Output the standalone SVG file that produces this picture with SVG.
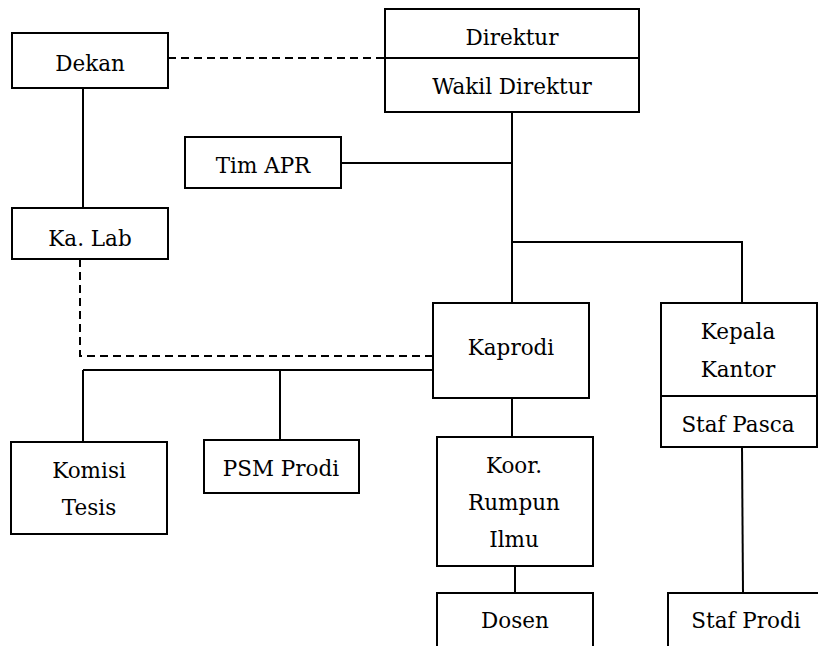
<svg xmlns="http://www.w3.org/2000/svg" width="818" height="646" viewBox="0 0 818 646">
<style>
.box{fill:#fff;stroke:#000;stroke-width:2}
.ln{fill:none;stroke:#000;stroke-width:2}
.ds{fill:none;stroke:#000;stroke-width:2;stroke-dasharray:8,5}
text{font-family:"DejaVu Serif","Liberation Serif",serif;font-size:21.5px;text-anchor:middle;fill:#000}
</style>
<rect width="818" height="646" fill="#fff"/>
<g id="connectors">
<line class="ds" x1="168" y1="58" x2="386" y2="58"/>
<line class="ln" x1="83" y1="88" x2="83" y2="208"/>
<line class="ln" x1="341" y1="163" x2="512" y2="163"/>
<line class="ln" x1="512" y1="112" x2="512" y2="303"/>
<polyline class="ln" points="512,242 742,242 742,303"/>
<polyline class="ds" points="80,259 80,356 433,356"/>
<line class="ln" x1="83" y1="370" x2="433" y2="370"/>
<line class="ln" x1="83" y1="370" x2="83" y2="442"/>
<line class="ln" x1="280" y1="370" x2="280" y2="440"/>
<line class="ln" x1="512" y1="398" x2="512" y2="437"/>
<line class="ln" x1="515" y1="566" x2="515" y2="593"/>
<line class="ln" x1="742" y1="447" x2="743" y2="593"/>
</g>
<g id="dekan"><rect class="box" x="12" y="33" width="156" height="55"/><text x="90" y="71">Dekan</text></g>
<g id="direktur"><rect class="box" x="385" y="9" width="254" height="103"/><line class="ln" x1="385" y1="58" x2="639" y2="58"/><text x="512" y="45">Direktur</text><text x="512" y="94">Wakil Direktur</text></g>
<g id="tim-apr"><rect class="box" x="185" y="137" width="156" height="51"/><text x="263" y="173">Tim APR</text></g>
<g id="ka-lab"><rect class="box" x="12" y="208" width="156" height="51"/><text x="90" y="246">Ka. Lab</text></g>
<g id="kaprodi"><rect class="box" x="433" y="303" width="156" height="95"/><text x="511" y="355">Kaprodi</text></g>
<g id="kepala-kantor"><rect class="box" x="661" y="303" width="156" height="144"/><line class="ln" x1="661" y1="396" x2="817" y2="396"/><text x="738" y="339">Kepala</text><text x="738" y="377">Kantor</text><text x="738" y="432">Staf Pasca</text></g>
<g id="komisi-tesis"><rect class="box" x="11" y="442" width="156" height="92"/><text x="89" y="478">Komisi</text><text x="89" y="515">Tesis</text></g>
<g id="psm-prodi"><rect class="box" x="204" y="440" width="155" height="53"/><text x="281" y="476">PSM Prodi</text></g>
<g id="koor"><rect class="box" x="437" y="437" width="156" height="129"/><text x="514" y="473">Koor.</text><text x="514" y="510">Rumpun</text><text x="514" y="547">Ilmu</text></g>
<g id="dosen"><rect class="box" x="437" y="593" width="156" height="60"/><text x="515" y="628">Dosen</text></g>
<g id="staf-prodi"><rect class="box" x="668" y="593" width="156" height="60"/><text x="746" y="628">Staf Prodi</text></g>
</svg>
